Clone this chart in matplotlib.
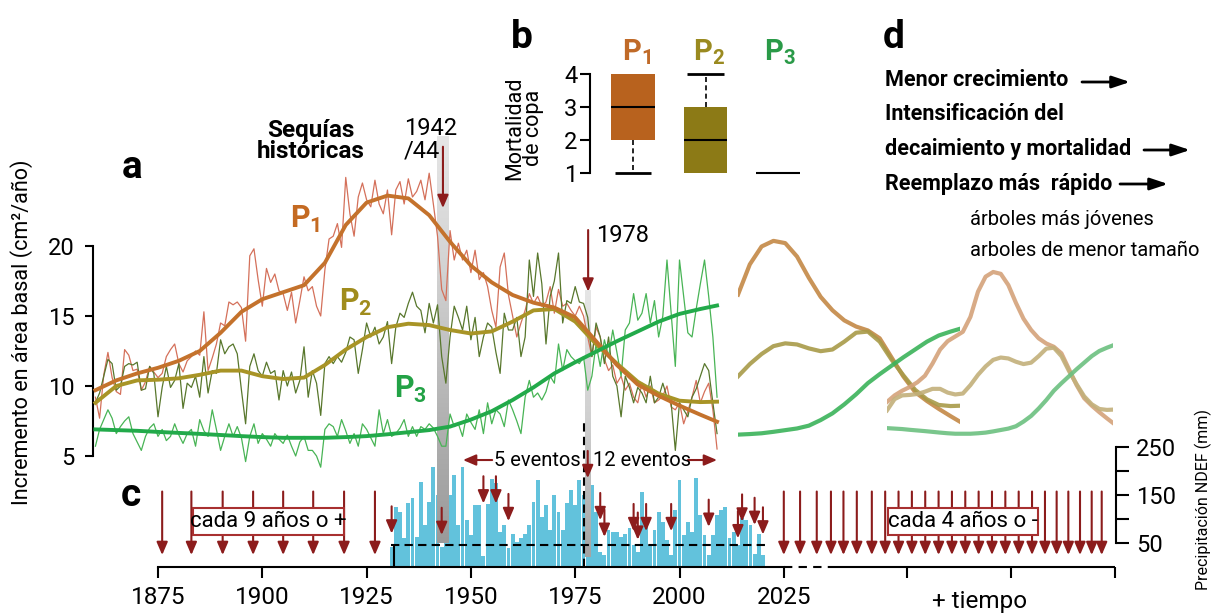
import numpy as np
import matplotlib
matplotlib.use("Agg")
import matplotlib.pyplot as plt
from matplotlib import font_manager
from matplotlib.colors import LinearSegmentedColormap
from matplotlib.patches import Rectangle

_names = {f.name for f in font_manager.fontManager.ttflist}
COND = "Liberation Sans Narrow" if "Liberation Sans Narrow" in _names else "Roboto"
plt.rcParams["font.family"] = [COND, "DejaVu Sans"]
plt.rcParams["mathtext.fontset"] = "custom"
plt.rcParams["mathtext.rm"] = COND
plt.rcParams["mathtext.bf"] = COND + ":bold"
plt.rcParams["axes.linewidth"] = 1.5

# ---------------- data: panel a (basal area increment, cm2/yr) ----------------
years = np.arange(1860, 2010)
p1_thin = [9.2, 7.7, 10.8, 12.4, 10.6, 9.6, 9.4, 12.6, 12.2, 11.1,
           11.2, 9.7, 10.3, 11.4, 11.0, 10.6, 10.9, 12.1, 12.6, 13.0,
           11.6, 11.0, 11.8, 12.1, 12.5, 12.2, 15.3, 11.1, 12.0, 13.0,
           14.5, 14.3, 16.0, 15.8, 16.0, 15.6, 13.2, 19.3, 19.8, 17.6,
           15.7, 18.4, 17.4, 18.0, 16.8, 16.6, 15.4, 16.7, 14.5, 16.1,
           17.8, 16.8, 17.1, 15.7, 15.0, 18.3, 20.5, 20.7, 21.6, 19.9,
           24.9, 22.3, 20.7, 23.5, 24.5, 23.3, 22.8, 24.7, 23.0, 22.3,
           24.0, 20.8, 24.0, 24.6, 23.0, 24.8, 23.5, 23.9, 24.7, 23.3,
           25.2, 23.0, 20.7, 16.9, 16.1, 21.1, 19.0, 20.2, 19.0, 19.7,
           18.1, 19.7, 17.6, 18.1, 17.1, 15.4, 14.2, 18.5, 19.5, 16.5,
           15.0, 13.5, 14.5, 15.4, 16.6, 15.9, 16.4, 15.7, 16.0, 17.1,
           15.2, 16.9, 15.7, 15.9, 15.4, 15.0, 15.7, 15.0, 13.5, 12.1,
           14.2, 13.5, 11.9, 11.1, 11.5, 10.2, 10.7, 9.7, 10.2, 9.2,
           8.8, 10.2, 9.2, 10.0, 8.8, 9.0, 9.3, 10.0, 8.5, 8.3,
           8.8, 7.3, 8.2, 9.2, 10.4, 8.8, 9.6, 10.2, 8.3, 5.5]
p2_thin = [8.8, 9.5, 10.7, 11.9, 11.6, 9.7, 10.0, 11.4, 11.6, 11.5,
           11.7, 9.7, 9.8, 11.4, 10.9, 7.8, 9.9, 11.4, 9.9, 10.4,
           11.6, 8.4, 10.2, 9.9, 10.7, 9.2, 12.1, 9.5, 11.1, 10.9,
           13.3, 12.3, 12.8, 13.0, 12.3, 9.7, 7.3, 11.4, 12.3, 11.1,
           10.7, 11.7, 10.9, 11.1, 9.0, 11.1, 10.0, 11.0, 9.5, 10.4,
           12.8, 9.2, 11.1, 10.2, 7.9, 11.6, 12.1, 11.6, 12.1, 11.7,
           12.4, 13.5, 13.3, 10.9, 12.6, 14.5, 13.5, 14.2, 13.0, 13.5,
           14.6, 11.6, 14.2, 15.2, 14.9, 15.9, 16.7, 15.7, 15.4, 13.8,
           15.9, 14.5, 15.8, 12.1, 10.2, 13.5, 15.7, 14.9, 14.0, 15.7,
           13.3, 14.9, 12.1, 13.5, 14.5, 14.2, 12.4, 10.9, 15.2, 14.0,
           14.0, 14.9, 12.1, 13.5, 19.0, 16.4, 19.5, 17.3, 13.0, 16.4,
           17.5, 19.5, 14.5, 16.1, 15.9, 17.1, 16.0, 15.9, 14.9, 12.1,
           14.5, 13.5, 11.6, 13.5, 10.7, 10.0, 7.8, 10.7, 9.9, 8.8,
           9.9, 9.5, 8.8, 10.7, 8.8, 9.2, 10.2, 9.2, 8.8, 5.4,
           8.8, 8.3, 7.8, 9.2, 9.8, 10.7, 11.6, 11.1, 8.8, 6.6]
p3_thin = [5.7, 6.9, 7.6, 8.3, 7.7, 6.6, 7.1, 7.5, 7.8, 6.6,
           6.0, 5.4, 6.4, 7.0, 7.3, 6.4, 6.9, 6.1, 6.4, 7.3,
           6.5, 5.9, 6.6, 6.9, 5.7, 7.6, 6.8, 6.4, 8.3, 6.9,
           5.4, 6.4, 7.3, 6.4, 7.1, 6.3, 4.6, 6.4, 7.3, 5.9,
           6.6, 6.2, 5.7, 6.6, 6.2, 5.9, 6.5, 5.7, 5.0, 6.0,
           6.4, 5.4, 5.4, 5.0, 4.2, 6.9, 7.3, 7.1, 6.4, 7.6,
           6.8, 5.9, 6.6, 5.7, 7.3, 6.9, 6.3, 5.7, 8.3, 6.6,
           7.6, 6.4, 6.6, 7.0, 7.6, 6.4, 7.1, 6.4, 7.1, 6.9,
           7.3, 7.0, 6.4, 5.7, 5.7, 8.0, 7.1, 7.3, 6.4, 8.0,
           7.4, 6.9, 8.3, 6.6, 8.8, 7.3, 8.3, 8.0, 7.1, 9.0,
           8.3, 7.5, 6.6, 9.2, 10.4, 9.2, 9.5, 9.0, 9.6, 10.7,
           10.2, 13.0, 11.1, 12.6, 12.1, 11.8, 11.6, 12.1, 9.7, 10.7,
           13.0, 11.4, 13.3, 12.1, 14.0, 12.4, 10.7, 14.0, 14.5, 16.6,
           14.7, 15.2, 16.6, 14.5, 16.1, 13.5, 15.0, 19.0, 15.2, 11.4,
           19.0, 16.4, 13.8, 13.5, 15.5, 17.3, 19.0, 16.4, 13.5, 9.2]

smooth_years = np.array(list(range(1860, 2010, 5)) + [2009])
p1_smooth = [9.7, 10.4, 10.9, 11.3, 11.8, 12.5, 13.8, 15.3, 16.2, 16.7, 17.2,
             18.8, 21.5, 23.1, 23.6, 23.4, 22.2, 20.3, 18.6, 17.4, 16.5,
             15.95, 15.6, 14.9, 13.2, 11.5, 10.1, 9.3, 8.6, 7.95, 7.45]
p2_smooth = [8.8, 10.0, 10.4, 10.45, 10.55, 10.8, 11.1, 11.1, 10.7, 10.5, 10.6,
             11.5, 12.6, 13.5, 14.2, 14.45, 14.35, 14.0, 13.75, 13.9, 14.6,
             15.4, 15.5, 14.6, 13.0, 11.6, 10.3, 9.45, 8.95, 8.85, 8.88]
p3_smooth = [6.9, 6.85, 6.8, 6.72, 6.65, 6.58, 6.5, 6.42, 6.35, 6.3, 6.3,
             6.3, 6.35, 6.42, 6.55, 6.7, 6.85, 7.1, 7.6, 8.2, 9.0,
             9.9, 10.9, 11.7, 12.45, 13.2, 13.9, 14.6, 15.15, 15.5, 15.75]

# ---------------- data: panel b (crown mortality) ----------------
mort_groups = ["P1", "P2", "P3"]
mort_whislo = [1, 1, 1]
mort_q1 = [2, 1, 1]
mort_med = [3, 2, 1]
mort_q3 = [4, 3, 1]
mort_whishi = [4, 4, 1]

# ---------------- data: panel c (NDEF precipitation, mm) ----------------
precip_years = np.arange(1931, 2021)
precip_mm = [41, 125, 115, 59, 132, 143, 62, 178, 87, 136,
             209, 150, 40, 150, 150, 192, 87, 209, 97, 66,
             129, 129, 23, 130, 183, 174, 73, 87, 38, 69,
             52, 59, 69, 87, 136, 181, 104, 129, 76, 150,
             115, 76, 132, 160, 129, 181, 150, 40, 171, 115,
             31, 24, 76, 73, 73, 62, 69, 80, 45, 30,
             157, 94, 45, 76, 115, 94, 55, 24, 118, 181,
             66, 94, 73, 185, 108, 66, 24, 66, 108, 118,
             125, 59, 73, 45, 101, 97, 87, 27, 69, 24]
precip_threshold = 46
drought_years = [1931, 1943, 1953, 1956, 1959, 1978, 1981, 1982, 1989,
                 1990, 1992, 1998, 2007, 2014, 2015, 2018, 2020]
drought_tip_mm = [69, 66, 132, 132, 95, 185, 97, 62, 74,
                  56, 74, 74, 83, 59, 94, 87, 67]
past_drought_years = [1876, 1883, 1890.5, 1897.8, 1905, 1912.2, 1919.6, 1927]
future_drought_years = [2025, 2028.9, 2032.9, 2036.3, 2039.3, 2042.5, 2046.1,
                        2049.3, 2052.5, 2055.7, 2058.9, 2062.1, 2065.3, 2068.5,
                        2071.7, 2074.9, 2078.1, 2081.3, 2084.5, 2087.6, 2090.4,
                        2093.2, 2096.0, 2098.8, 2101.2]
xtick_years = [1875, 1900, 1925, 1950, 1975, 2000, 2025]
future_tick_years = [2054.5, 2079.5, 2104.4]

# ---------------- colours ----------------
C1_THIN, C2_THIN, C3_THIN = "#d4705a", "#58772c", "#48b455"
C1, C2, C3 = "#c4722c", "#a89426", "#22aa4a"
DR = "#8c1c1c"
BAR = "#62c2dc"

# ---------------- figure / pixel helpers ----------------
W, H = 1217, 614
fig = plt.figure(figsize=(W / 100, H / 100), dpi=100)
fig.patch.set_facecolor("white")


def ftext(px, py, s, **kw):
    return fig.text(px / W, 1 - py / H, s, **kw)


PX_YR = 4.172
XLIM = (1875 - 158 / PX_YR, 1875 + (W - 158) / PX_YR)
MM_PX, MM0 = 0.4775, 566.5
BAI_PX, BAI20 = 14.0, 246.0

# ---------- panel c axes (full figure, x in years, y in mm) ----------
ax_c = fig.add_axes([0, 0, 1, 1])
ax_c.patch.set_alpha(0)

ax_c.bar(precip_years, precip_mm, width=0.92, color=BAR, zorder=1, linewidth=0)

band_cmap = LinearSegmentedColormap.from_list("b1", ["#9a9a9a", "#b4b4b4", "#d2d2d2", "#e6e6e6"])
band2_cmap = LinearSegmentedColormap.from_list("b2", ["#a4a4a4", "#cfcfcf", "#e6e6e6"])
grad = np.linspace(0, 1, 256).reshape(-1, 1)
ax_c.imshow(grad, extent=[1941.8, 1944.6, 49, 900], origin="lower", aspect="auto",
            cmap=band_cmap, zorder=2, interpolation="bilinear")
ax_c.imshow(grad, extent=[1977.4, 1978.6, 20, 579], origin="lower", aspect="auto",
            cmap=band2_cmap, zorder=2, interpolation="bilinear")

ax_c.hlines(precip_threshold, 1930.8, 2021.2, colors="black", linestyles=(0, (4, 2.5)), lw=1.5, zorder=3)
ax_c.vlines(1931.6, 0, precip_threshold, colors="black", lw=1.5, zorder=3)
ax_c.vlines(1977.1, 0, 307, colors="black", linestyles=(0, (4, 2.5)), lw=1.5, zorder=3)

AST = "-|>,head_length=0.7,head_width=0.3"


def darrow(ax, x, y0, y1, z=4):
    ax.annotate("", xy=(x, y1), xytext=(x, y0),
                arrowprops=dict(arrowstyle=AST, color=DR, lw=1.5, shrinkA=0, shrinkB=0,
                                mutation_scale=11), zorder=z)


for yr, tip in zip(drought_years, drought_tip_mm):
    darrow(ax_c, yr, tip + 57, tip)
for yr in past_drought_years + future_drought_years:
    darrow(ax_c, yr, 157, 24)

for (x0, x1, txt) in [(1883.3, 1919.6, "cada 9 años o +"), (2050.0, 2086.0, "cada 4 años o -")]:
    ax_c.add_patch(Rectangle((x0, 66), x1 - x0, 57, facecolor="white", edgecolor="#a83030",
                             lw=1.5, zorder=5))
    ax_c.text((x0 + x1) / 2, 94, txt, ha="center", va="center", fontsize=16, zorder=6)

# event counters
ax_c.annotate("", xy=(1948.1, 223), xytext=(1955.1, 223),
              arrowprops=dict(arrowstyle=AST, color=DR, lw=1.5, shrinkA=0, shrinkB=0, mutation_scale=11))
ax_c.annotate("", xy=(2009.0, 223), xytext=(2002.0, 223),
              arrowprops=dict(arrowstyle=AST, color=DR, lw=1.5, shrinkA=0, shrinkB=0, mutation_scale=11))
ax_c.text(1965.8, 223, "5 eventos", ha="center", va="center", fontsize=14.5)
ax_c.text(1991.0, 223, "12 eventos", ha="center", va="center", fontsize=14.5)

# axis styling
for s in ["left", "top"]:
    ax_c.spines[s].set_visible(False)
ax_c.spines["bottom"].set_position(("data", 0))
ax_c.spines["bottom"].set_bounds(1875, 2025)
ax_c.spines["right"].set_position(("data", 2104.6))
ax_c.spines["right"].set_bounds(50, 250)
ax_c.set_xticks(xtick_years + future_tick_years)
ax_c.set_xticklabels([str(y) for y in xtick_years] + [""] * len(future_tick_years))
ax_c.yaxis.set_ticks_position("right")
ax_c.set_yticks([50, 100, 150, 200, 250])
ax_c.set_yticklabels(["50", "", "150", "", "250"])
ax_c.tick_params(axis="x", direction="out", length=8, width=1.5, labelsize=17.5, pad=6)
ax_c.tick_params(axis="y", direction="out", length=9.5, width=1.5, labelsize=17, pad=5)
ax_c.plot([2025, 2035.6], [0, 0], color="black", lw=1.5, ls=(0, (4, 3)), clip_on=False)
ax_c.plot([2035.6, 2104.4], [0, 0], color="black", lw=1.5, clip_on=False, solid_capstyle="butt")
ax_c.text(2072.0, -74, "+ tiempo", ha="center", va="center", fontsize=17.5)

ax_c.set_xlim(*XLIM)
ax_c.set_ylim((MM0 - H) / MM_PX, MM0 / MM_PX)

# ---------- panel a axes (full figure, x in years, y in BAI) ----------
ax_a = fig.add_axes([0, 0, 1, 1])
ax_a.patch.set_alpha(0)
ax_a.plot(years, p1_thin, color=C1_THIN, lw=0.9, zorder=3)
ax_a.plot(years, p2_thin, color=C2_THIN, lw=0.9, zorder=3)
ax_a.plot(years, p3_thin, color=C3_THIN, lw=0.9, zorder=3)
ax_a.plot(smooth_years, p2_smooth, color=C2, lw=2.8, zorder=4, solid_joinstyle="round")
ax_a.plot(smooth_years, p1_smooth, color=C1, lw=2.8, zorder=4, solid_joinstyle="round")
ax_a.plot(smooth_years, p3_smooth, color=C3, lw=2.8, zorder=4, solid_joinstyle="round")

for x, y0, y1 in [(1943.3, 27.09, 22.71), (1978.1, 21.14, 16.74)]:
    ax_a.annotate("", xy=(x, y1), xytext=(x, y0),
                  arrowprops=dict(arrowstyle=AST, color=DR, lw=1.5, shrinkA=0, shrinkB=0,
                                  mutation_scale=11), zorder=6)

for s in ["right", "top", "bottom"]:
    ax_a.spines[s].set_visible(False)
ax_a.spines["left"].set_position(("data", 1859.4))
ax_a.spines["left"].set_bounds(5, 20)
ax_a.set_xticks([])
ax_a.set_yticks([5, 10, 15, 20])
ax_a.tick_params(axis="y", direction="out", length=6, width=1.5, labelsize=17, pad=7)
ax_a.set_xlim(*XLIM)
ax_a.set_ylim(20 - (H - BAI20) / BAI_PX, 20 + BAI20 / BAI_PX)

# ---------- panel b axes ----------
ax_b = fig.add_axes([590 / W, 1 - 185 / H, 230 / W, 125 / H])
ax_b.patch.set_alpha(0)
stats = [dict(whislo=a, q1=b, med=c, q3=d, whishi=e, fliers=[], label=g)
         for a, b, c, d, e, g in zip(mort_whislo, mort_q1, mort_med, mort_q3, mort_whishi, mort_groups)]
pos = [1, 2, 3]
bp = ax_b.bxp(stats, positions=pos, widths=0.6, patch_artist=True, showcaps=False,
              showfliers=False, boxprops=dict(linewidth=0),
              medianprops=dict(color="black", linewidth=1.5, solid_capstyle="butt"),
              whiskerprops=dict(color="black", linewidth=1.2, linestyle=(0, (3, 2))))
for patch, col in zip(bp["boxes"], ["#b8621e", "#8c7a16", "#ffffff"]):
    patch.set_facecolor(col)
    patch.set_edgecolor(col)
for p, lo, q1, q3, hi in zip(pos, mort_whislo, mort_q1, mort_q3, mort_whishi):
    if lo < q1:
        ax_b.hlines(lo, p - 0.25, p + 0.25, colors="black", lw=2)
    if hi > q3:
        ax_b.hlines(hi, p - 0.25, p + 0.25, colors="black", lw=2)
for s in ["right", "top", "bottom"]:
    ax_b.spines[s].set_visible(False)
ax_b.spines["left"].set_bounds(1, 4)
ax_b.set_xticks([])
ax_b.set_yticks([1, 2, 3, 4])
ax_b.tick_params(axis="y", direction="out", length=7, width=1.5, labelsize=17, pad=2)
ax_b.set_xlim(0.407, 3.579)
ax_b.set_ylim(0.647, 4.423)

# ---------- panel d schematic (compressed copies of the smooth curves) ----------
sel = smooth_years >= 1915
g1 = fig.add_axes([738 / W, 1 - 440 / H, 222 / W, 210 / H])
g1.axis("off")
g1.patch.set_alpha(0)
g1.plot(smooth_years[sel], np.array(p1_smooth)[sel], color="#c48846", lw=3, alpha=0.9)
g1.plot(smooth_years[sel], np.array(p2_smooth)[sel], color="#a89a48", lw=3, alpha=0.9)
g1.plot(smooth_years[sel], np.array(p3_smooth)[sel], color="#3bb35a", lw=3, alpha=0.9)
g1.set_xlim(1915, 2009)
g1.set_ylim(5.82, 24.57)

g2 = fig.add_axes([887 / W, 1 - 440 / H, 226 / W, 180 / H])
g2.axis("off")
g2.patch.set_alpha(0)
g2.plot(smooth_years, p1_smooth, color="#d4a27a", lw=3, alpha=0.9)
g2.plot(smooth_years, p2_smooth, color="#c2b07a", lw=3, alpha=0.9)
g2.plot(smooth_years, p3_smooth, color="#6cc080", lw=3, alpha=0.9)
g2.set_xlim(1860, 2009)
g2.set_ylim(5.63, 24.88)

# ---------- text annotations ----------
ftext(132, 168, "a", fontsize=28, fontweight="bold", ha="center", va="center")
ftext(522, 38, "b", fontsize=28, fontweight="bold", ha="center", va="center")
ftext(131, 496, "c", fontsize=28, fontweight="bold", ha="center", va="center")
ftext(894, 38, "d", fontsize=28, fontweight="bold", ha="center", va="center")

ftext(311, 141, "Sequías\nhistóricas", fontsize=17.5, fontweight="bold", ha="center",
      va="center", linespacing=0.92)
ftext(404, 140, "1942\n/44", fontsize=17, ha="left", va="center", linespacing=0.95)
ftext(596, 236, "1978", fontsize=17, ha="left", va="center")


def plab(px, py, n, col, size=22):
    ftext(px, py, r"$\mathbf{P}_{\mathbf{%d}}$" % n, color=col, fontsize=size, ha="center", va="center")


plab(305, 219, 1, "#c46a22")
plab(356, 302, 2, "#a08c1c")
plab(411, 389, 3, "#23a246")
plab(637, 52, 1, "#c06a28", 21)
plab(709, 52, 2, "#9a8a20", 21)
plab(780, 52, 3, "#2a9a48", 21)

ftext(22, 332, "Incremento en área basal (cm²/año)", fontsize=15.5, rotation=90,
      ha="center", va="center")
ftext(524, 128, "Mortalidad\nde copa", fontsize=15.5, rotation=90, ha="center",
      va="center", linespacing=0.9, multialignment="center")
ftext(1203, 500, "Precipitación NDEF (mm)", fontsize=11.5, rotation=90, ha="center", va="center")

ftext(885, 80, "Menor crecimiento", fontsize=15.5, fontweight="bold", ha="left", va="center")
ftext(885, 114, "Intensificación del", fontsize=15.5, fontweight="bold", ha="left", va="center")
ftext(885, 149, "decaimiento y mortalidad", fontsize=15.5, fontweight="bold", ha="left", va="center")
ftext(885, 184, "Reemplazo más  rápido", fontsize=15.5, fontweight="bold", ha="left", va="center")
ftext(970, 220, "árboles más jóvenes", fontsize=14.5, ha="left", va="center")
ftext(970, 250, "arboles de menor tamaño", fontsize=14.5, ha="left", va="center")

for x0, x1, py in [(1082, 1130, 82), (1144, 1190, 150), (1120, 1168, 184)]:
    ax_a.annotate("", xy=(x1, H - py), xycoords="figure pixels",
                  xytext=(x0, H - py), textcoords="figure pixels",
                  arrowprops=dict(arrowstyle="-|>,head_length=0.9,head_width=0.3", color="black",
                                  lw=2, shrinkA=0, shrinkB=0, mutation_scale=12))

fig.savefig("out.png", dpi=100, facecolor="white")
